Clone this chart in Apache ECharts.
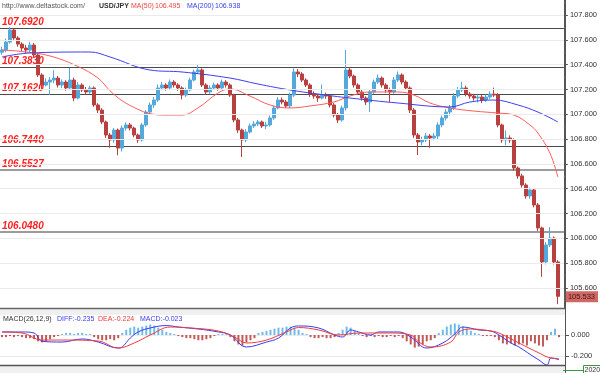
<!DOCTYPE html>
<html><head><meta charset="utf-8">
<script src="https://cdn.jsdelivr.net/npm/echarts@6/dist/echarts.min.js"></script>
<style>html,body{margin:0;padding:0;background:#fff}#c{width:600px;height:373px}</style>
</head><body><div id="c"></div>
<script>
// ---- data (USD/JPY candles) ----
const opens = [107.500,107.518,107.582,107.679,107.615,107.566,107.534,107.518,107.558,107.478,
107.317,107.236,107.260,107.276,107.292,107.236,107.260,107.212,107.276,107.131,
107.236,107.196,107.180,107.212,107.075,107.034,106.938,106.833,106.793,106.873,
106.728,106.889,106.914,106.889,106.833,106.793,106.914,107.018,107.075,107.115,
107.212,107.236,107.212,107.260,107.236,107.212,107.155,107.196,107.276,107.341,
107.357,107.236,107.180,107.212,107.236,107.212,107.260,107.236,107.155,106.954,
106.873,106.793,106.857,106.906,106.922,106.938,106.906,106.914,106.970,107.051,
107.115,107.099,107.067,107.155,107.341,107.325,107.276,107.236,107.163,107.147,
107.131,107.155,107.147,107.075,106.994,106.954,107.051,107.357,107.308,107.236,
107.180,107.131,107.099,107.180,107.260,107.292,107.236,107.196,107.180,107.276,
107.317,107.260,107.212,107.034,106.833,106.777,106.793,106.825,106.809,106.825,
106.914,106.970,107.018,107.051,107.147,107.196,107.212,107.163,107.147,107.131,
107.139,107.115,107.139,107.163,107.155,106.914,106.793,106.809,106.793,106.567,
106.503,106.430,106.342,106.390,106.269,106.084,105.810,105.947,106.003,105.810];
const closes = [107.518,107.582,107.679,107.615,107.566,107.534,107.518,107.558,107.478,107.317,
107.236,107.260,107.276,107.292,107.236,107.260,107.212,107.276,107.131,107.236,
107.196,107.180,107.212,107.075,107.034,106.938,106.833,106.793,106.873,106.728,
106.889,106.914,106.889,106.833,106.793,106.914,107.018,107.075,107.115,107.212,
107.236,107.212,107.260,107.236,107.212,107.155,107.196,107.276,107.341,107.357,
107.236,107.180,107.212,107.236,107.212,107.260,107.236,107.155,106.954,106.873,
106.793,106.857,106.906,106.922,106.938,106.906,106.914,106.970,107.051,107.115,
107.099,107.067,107.155,107.341,107.325,107.276,107.236,107.163,107.147,107.131,
107.155,107.147,107.075,106.994,106.954,107.051,107.357,107.308,107.236,107.180,
107.131,107.099,107.180,107.260,107.292,107.236,107.196,107.180,107.276,107.317,
107.260,107.212,107.034,106.833,106.777,106.793,106.825,106.809,106.825,106.914,
106.970,107.018,107.051,107.147,107.196,107.212,107.163,107.147,107.131,107.139,
107.115,107.139,107.163,107.155,106.914,106.793,106.809,106.793,106.567,106.503,
106.430,106.342,106.390,106.269,106.084,105.810,105.947,106.003,105.810,105.533];
const highs = [107.545,107.610,107.703,107.692,107.630,107.580,107.560,107.585,107.575,107.490,
107.330,107.290,107.300,107.355,107.310,107.280,107.275,107.375,107.295,107.260,
107.250,107.220,107.230,107.225,107.090,107.050,106.950,106.850,106.890,106.885,
106.910,106.935,106.930,106.900,106.845,106.930,107.035,107.095,107.140,107.240,
107.260,107.250,107.280,107.275,107.250,107.225,107.215,107.295,107.360,107.400,
107.370,107.250,107.235,107.255,107.250,107.280,107.275,107.250,107.165,106.970,
106.885,106.880,106.925,106.945,106.955,106.950,106.940,106.990,107.070,107.140,
107.135,107.115,107.175,107.370,107.365,107.340,107.290,107.250,107.185,107.165,
107.240,107.175,107.160,107.090,107.010,107.070,107.518,107.380,107.320,107.250,
107.195,107.145,107.200,107.280,107.320,107.305,107.250,107.215,107.300,107.345,
107.330,107.275,107.225,107.050,106.850,106.820,106.850,106.840,106.850,106.935,
106.990,107.040,107.075,107.170,107.220,107.262,107.230,107.180,107.165,107.160,
107.155,107.160,107.185,107.215,107.170,106.925,106.870,106.830,106.805,106.580,
106.520,106.445,106.410,106.405,106.285,106.095,105.970,106.090,106.015,105.825];
const lows = [107.480,107.500,107.570,107.600,107.545,107.510,107.490,107.500,107.455,107.300,
107.200,107.225,107.155,107.250,107.215,107.210,107.190,107.195,107.105,107.120,
107.180,107.160,107.165,107.060,107.010,106.920,106.810,106.730,106.770,106.670,
106.700,106.870,106.870,106.815,106.770,106.780,106.900,107.000,107.050,107.100,
107.195,107.190,107.200,107.215,107.190,107.120,107.140,107.185,107.265,107.330,
107.220,107.160,107.165,107.195,107.190,107.200,107.215,107.140,106.935,106.850,
106.656,106.775,106.845,106.890,106.905,106.890,106.880,106.900,106.955,107.040,
107.080,107.050,107.050,107.140,107.300,107.260,107.220,107.140,107.125,107.100,
107.120,107.125,107.055,106.975,106.930,106.940,107.030,107.290,107.215,107.160,
107.110,107.075,107.020,107.165,107.245,107.215,107.175,107.100,107.165,107.260,
107.240,107.195,107.010,106.810,106.672,106.750,106.775,106.730,106.790,106.800,
106.895,106.950,106.990,107.035,107.130,107.180,107.145,107.125,107.110,107.095,
107.090,107.100,107.125,107.140,106.895,106.770,106.750,106.770,106.545,106.480,
106.410,106.320,106.320,106.250,106.060,105.690,105.790,105.930,105.790,105.470];

// moving averages: [candle index, value]
const ma50 = [[0,107.518],[5,107.506],[12,107.470],[19,107.385],[24,107.292],[27,107.190],[30,107.110],[34,107.040],[37,107.005],[41,106.994],[45,106.994],[49,107.051],[54,107.171],[57,107.204],[62,107.147],[67,107.075],[72,107.051],[77,107.067],[83,107.099],[87,107.147],[92,107.180],[99,107.180],[103,107.155],[107,107.091],[112,107.051],[118,107.026],[124,107.010],[128,106.994],[132,106.914],[134,106.849],[137,106.688],[139,106.495]];
const ma200 = [[0,107.462],[7,107.494],[22,107.502],[27,107.462],[37,107.357],[45,107.341],[57,107.292],[64,107.244],[72,107.196],[79,107.163],[87,107.131],[99,107.091],[112,107.059],[117,107.099],[123,107.115],[129,107.075],[134,107.018],[139,106.938]];

// MACD panel
const diffLine = [[0,0.029],[5,0.029],[8,0.019],[10,-0.060],[15,-0.067],[20,-0.038],[24,-0.067],[29,-0.124],[30,-0.114],[32,-0.029],[34,0.029],[37,0.067],[41,0.090],[44,0.076],[49,0.057],[54,0.029],[57,0.0],[61,-0.114],[66,-0.067],[69,-0.029],[72,0.067],[74,0.086],[79,0.067],[83,0.0],[85,-0.019],[87,0.048],[89,0.029],[92,0.0],[94,0.029],[99,0.029],[102,-0.019],[106,-0.124],[110,-0.076],[113,0.010],[115,0.076],[119,0.048],[122,0.038],[124,0.0],[127,-0.076],[129,-0.114],[132,-0.190],[134,-0.238],[136,-0.286],[137,-0.219],[139,-0.235]];
const deaLine = [[0,0.029],[5,0.019],[10,-0.048],[16,-0.048],[24,-0.057],[29,-0.124],[33,-0.076],[37,0.0],[42,0.076],[47,0.067],[54,0.038],[58,-0.019],[61,-0.076],[66,-0.048],[71,0.029],[74,0.071],[79,0.048],[84,0.0],[89,0.019],[97,0.019],[102,0.0],[104,-0.067],[107,-0.114],[112,-0.067],[114,0.029],[117,0.057],[122,0.038],[124,0.019],[129,-0.076],[134,-0.171],[137,-0.219],[139,-0.224]];
const macdHist = [-0.02,-0.02,-0.01,-0.02,-0.01,-0.02,-0.03,-0.03,-0.04,-0.06,
-0.07,-0.06,-0.04,-0.02,-0.01,0.01,0.02,0.02,0.01,0.02,
0.02,0.01,0.01,-0.02,-0.04,-0.05,-0.05,-0.04,-0.05,-0.03,
0.02,0.05,0.07,0.08,0.07,0.08,0.09,0.10,0.09,0.07,
0.05,0.03,0.02,0.01,-0.01,-0.02,-0.03,-0.03,-0.04,-0.05,
-0.05,-0.04,-0.03,-0.01,0.01,0.01,0.01,-0.02,-0.06,-0.09,
-0.10,-0.07,-0.05,-0.03,0.02,0.03,0.04,0.05,0.06,0.07,
0.07,0.08,0.08,0.07,0.05,0.02,0.01,-0.02,-0.03,-0.03,
-0.02,-0.03,-0.03,-0.02,0.02,0.05,0.08,0.07,0.04,0.02,
-0.01,-0.02,-0.01,-0.02,-0.01,-0.02,-0.02,-0.01,-0.02,-0.01,
-0.03,-0.06,-0.09,-0.12,-0.11,-0.09,-0.06,-0.05,-0.03,0.02,
0.05,0.08,0.10,0.11,0.10,0.08,0.06,0.04,0.02,0.01,
-0.01,-0.01,-0.01,-0.02,-0.05,-0.08,-0.09,-0.08,-0.10,-0.09,
-0.08,-0.10,-0.06,-0.08,-0.10,-0.11,-0.05,0.03,0.06,-0.02];

// support / resistance levels
const levels = [107.692, 107.383, 107.162, 106.744, 106.5527, 106.048];
const levelLabels = ['107.6920','107.3830','107.1620','106.7440','106.5527','106.0480'];

// axis tick values
const priceTicks = [105.6, 105.8, 106.0, 106.2, 106.4, 106.6, 106.8, 107.0, 107.2, 107.4, 107.6, 107.8];
const priceMinorTicks = [105.5, 105.7, 105.9, 106.1, 106.3, 106.5, 106.7, 106.9, 107.1, 107.3, 107.5, 107.7, 107.9];
const macdTicks = [-0.2, 0.0];

const legendTexts = ['http://www.deltastock.com/','USD/JPY','MA(50)','106.495','MA(200)','106.938'];
const macdTexts = ['MACD(26,12,9)','DIFF:-0.235','DEA:-0.224','MACD:-0.023'];

// ---- chart ----
const candleData = opens.map((o, i) => [o, closes[i], lows[i], highs[i]]);
const categories = opens.map((_, i) => String(i)).concat(['']);
const lastPrice = closes[closes.length - 1];
const FONT = '"Liberation Sans", Arial, sans-serif';

const chart = echarts.init(document.getElementById('c'));

const hiddenX = (g) => ({type:'category', gridIndex:g, data:categories, boundaryGap:true,
  axisLine:{show:false}, axisTick:{show:false}, axisLabel:{show:false}, splitLine:{show:false}});

function txt(text, x, y, fill, size, weight) {
  return {type:'text', z:50, style:{text:text, x:x, y:y, fill:fill, fontSize:size,
    fontFamily:FONT, fontWeight:weight || 'normal', verticalAlign:'middle'}};
}
const gridLine = (v) => ({yAxis:v, lineStyle:{color:'#ebebeb', width:1, type:'solid'}, label:{show:false}});

const option = {
  animation:false,
  backgroundColor:'#ffffff',
  grid:[
    {left:0, right:35, top:0, height:308},
    {left:0, right:35, top:315, height:50}
  ],
  xAxis:[hiddenX(0), hiddenX(1)],
  yAxis:[
    {type:'value', gridIndex:0, position:'right', min:105.439, max:107.921,
     axisLine:{show:true, lineStyle:{color:'#555', width:1}},
     axisTick:{show:true, length:4, customValues:priceTicks, lineStyle:{color:'#555'}},
     axisLabel:{fontSize:7.5, color:'#333', margin:6, fontFamily:FONT, customValues:priceTicks,
       formatter:(v)=>v.toFixed(3)},
     splitLine:{show:false}},
    {type:'value', gridIndex:1, position:'right', min:-0.2857, max:0.1905,
     axisLine:{show:true, lineStyle:{color:'#555', width:1}},
     axisTick:{show:true, length:4, customValues:macdTicks, lineStyle:{color:'#555'}},
     axisLabel:{fontSize:7.5, color:'#333', margin:6, fontFamily:FONT, customValues:macdTicks,
       formatter:(v)=>v.toFixed(3)},
     splitLine:{show:false}},
    {type:'value', gridIndex:0, position:'right', min:105.439, max:107.921, show:true,
     axisLine:{show:false}, axisLabel:{show:false}, splitLine:{show:false},
     axisTick:{show:true, length:2, customValues:priceMinorTicks, lineStyle:{color:'#777'}}}
  ],
  series:[
    {type:'line', name:'grid', xAxisIndex:0, yAxisIndex:0, data:[], z:0, silent:true,
     markLine:{symbol:'none', silent:true, data:priceTicks.map(gridLine)}},
    {type:'candlestick', name:'USD/JPY', xAxisIndex:0, yAxisIndex:0, data:candleData,
     barWidth:3, z:3,
     itemStyle:{color:'#55a8dc', color0:'#b8413f', borderColor:'#55a8dc', borderColor0:'#b8413f', borderWidth:1},
     markLine:{symbol:'none', silent:true, z:1,
       label:{show:true, position:'insideStartTop', distance:[2,1], color:'#ff1f1f',
         fontStyle:'italic', fontWeight:'bold', fontSize:10, fontFamily:FONT},
       data: levels.map((v, i) => ({
         yAxis:v,
         lineStyle:{color: i >= 4 ? '#9c9c9c' : '#4a4a4a', width: i >= 4 ? 2 : 1, type:'solid'},
         label:{formatter: levelLabels[i]}
       })).concat([{
         yAxis:lastPrice,
         lineStyle:{color:'rgba(0,0,0,0)', width:0},
         label:{show:true, position:'end', distance:1, formatter: lastPrice.toFixed(3), backgroundColor:'#d36763',
           color:'#3a2020', fontStyle:'normal', fontWeight:'normal', fontSize:7.5, padding:[2,3,1,3]}
       }])
     }},
    {type:'line', name:'MA(50)', xAxisIndex:0, yAxisIndex:0, data:ma50, smooth:0.4, showSymbol:false, z:4,
     lineStyle:{color:'#ff5c5c', width:1}},
    {type:'line', name:'MA(200)', xAxisIndex:0, yAxisIndex:0, data:ma200, smooth:0.4, showSymbol:false, z:4,
     lineStyle:{color:'#3f3ff0', width:1}},
    {type:'bar', name:'MACD', xAxisIndex:1, yAxisIndex:1, data:macdHist, barWidth:2, z:2,
     itemStyle:{color:(p)=> p.value >= 0 ? '#72bbe8' : '#bf5a58'},
     markLine:{symbol:'none', silent:true, z:0, data:macdTicks.map(gridLine)}},
    {type:'line', name:'DIFF', xAxisIndex:1, yAxisIndex:1, data:diffLine, smooth:0.4, showSymbol:false, z:4,
     lineStyle:{color:'#3a3af2', width:1}},
    {type:'line', name:'DEA', xAxisIndex:1, yAxisIndex:1, data:deaLine, smooth:0.4, showSymbol:false, z:5,
     lineStyle:{color:'#f23a3a', width:1}}
  ],
  graphic:[
    txt(legendTexts[0], 2, 6, '#555', 7),
    txt(legendTexts[1], 99, 6, '#333', 7, 'bold'),
    txt(legendTexts[2], 131, 6, '#ee4444', 7),
    txt(legendTexts[3], 155, 6, '#ee4444', 7),
    txt(legendTexts[4], 187, 6, '#3b3bee', 7),
    txt(legendTexts[5], 215, 6, '#3b3bee', 7),
    {type:'rect', z:40, shape:{x:0, y:308, width:565, height:7}, style:{fill:'#f0f0f0'}},
    {type:'line', z:41, shape:{x1:0, y1:308.5, x2:565, y2:308.5}, style:{stroke:'#666', lineWidth:1.5}},
    {type:'rect', z:40, shape:{x:0, y:365, width:565, height:8}, style:{fill:'#f0f0f0'}},
    {type:'line', z:41, shape:{x1:0, y1:365.5, x2:565, y2:365.5}, style:{stroke:'#555', lineWidth:1.5}},
    {type:'line', z:41, shape:{x1:565.5, y1:0, x2:565.5, y2:373}, style:{stroke:'#555', lineWidth:1}},
    txt(macdTexts[0], 3, 319, '#333', 7),
    txt(macdTexts[1], 57, 319, '#3b3bee', 7),
    txt(macdTexts[2], 98, 319, '#ee3b3b', 7),
    txt(macdTexts[3], 140, 319, '#3b3bee', 7),
    txt('-0.400', 570, 375.5, '#333', 7.5),
    {type:'line', z:42, shape:{x1:563, y1:370.5, x2:584, y2:370.5}, style:{stroke:'#3a9a3a', lineWidth:1}},
    {type:'rect', z:42, shape:{x:583.5, y:365.5, width:18, height:9}, style:{fill:'#fff', stroke:'#3a9a3a', lineWidth:1}},
    txt('2020', 584.5, 370, '#333', 7)
  ]
};
chart.setOption(option);
</script>
</body></html>
